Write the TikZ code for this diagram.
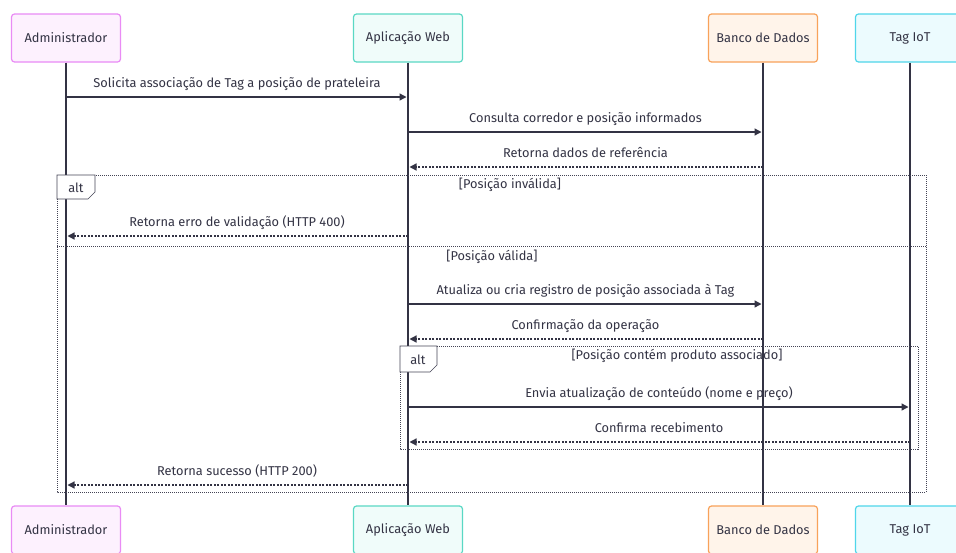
\documentclass[tikz,border=0pt]{standalone}
\usepackage{fontspec}
\setmainfont{Fira Sans}
\usetikzlibrary{arrows.meta,calc}
\definecolor{ink}{HTML}{333344}
\definecolor{admline}{HTML}{E98BF5}
\definecolor{admfill}{HTML}{FDF1FE}
\definecolor{appline}{HTML}{5AD8C4}
\definecolor{appfill}{HTML}{F0FCFA}
\definecolor{dbline}{HTML}{F8A25A}
\definecolor{dbfill}{HTML}{FFF4EA}
\definecolor{tagline}{HTML}{4FD6EA}
\definecolor{tagfill}{HTML}{ECFBFE}
\definecolor{framegray}{HTML}{444455}
\tikzset{
  actor/.style={draw, rounded corners=3pt, minimum width=109pt, minimum height=48pt,
    line width=1.2pt, text=ink, font=\fontsize{12.8}{15}\selectfont},
  lifeline/.style={draw=ink, line width=1.3pt},
  msg/.style={draw=ink, line width=1.3pt, -{Triangle[length=7pt,width=7pt]}},
  reply/.style={msg, dash pattern=on 2pt off 1.5pt},
  msglabel/.style={anchor=base, text=ink, font=\fontsize{12.8}{15}\selectfont},
  altframe/.style={draw=framegray, line width=1pt, dash pattern=on 1pt off 1pt},
  alttab/.style={draw=framegray, line width=0.6pt, fill=white},
  guard/.style={anchor=base, text=ink, font=\fontsize{12.8}{15}\selectfont},
}
\begin{document}
\begin{tikzpicture}[x=1pt,y=-1pt]
\useasboundingbox (0,0) rectangle (956,552);
\fill[white] (0,0) rectangle (956,552);

% participants, top and bottom
\node[actor, draw=admline, fill=admfill] (admT) at (66,38) {Administrador};
\node[actor, draw=appline, fill=appfill] (appT) at (408,38) {Aplicação Web};
\node[actor, draw=dbline, fill=dbfill] (dbT) at (763,38) {Banco de Dados};
\node[actor, draw=tagline, fill=tagfill] (tagT) at (910,38) {Tag IoT};

\node[actor, draw=admline, fill=admfill] (admB) at (66,530) {Administrador};
\node[actor, draw=appline, fill=appfill] (appB) at (408,530) {Aplicação Web};
\node[actor, draw=dbline, fill=dbfill] (dbB) at (763,530) {Banco de Dados};
\node[actor, draw=tagline, fill=tagfill] (tagB) at (910,530) {Tag IoT};

% lifelines
\draw[lifeline] (admT.south) -- (admB.north);
\draw[lifeline] (appT.south) -- (appB.north);
\draw[lifeline] (dbT.south) -- (dbB.north);
\draw[lifeline] (tagT.south) -- (tagB.north);

% outer alt frame
\draw[altframe] (57,175) rectangle (926,492);
\draw[altframe] (57,246) -- (926,246);
\draw[alttab] (57,175) -- (95,175) -- (95,192) -- (88,199) -- (57,199) -- cycle;
\node[anchor=base, text=ink, font=\fontsize{12.8}{15}\selectfont] (altA) at (76,192) {alt};
\node[guard] (g1) at (510,188) {[Posição inválida]};
\node[guard] (g2) at (492,260) {[Posição válida]};

% inner alt frame
\draw[altframe] (400,346) rectangle (918,449);
\draw[alttab] (400,346) -- (437,346) -- (437,365) -- (430,372) -- (400,372) -- cycle;
\node[anchor=base, text=ink, font=\fontsize{12.8}{15}\selectfont] (altB) at (418,364) {alt};
\node[guard] (g3) at (677,359) {[Posição contém produto associado]};

% message rows
\coordinate (m1) at (0,97);
\coordinate (m2) at (0,132);
\coordinate (m3) at (0,167);
\coordinate (m4) at (0,236);
\coordinate (m5) at (0,304);
\coordinate (m6) at (0,339);
\coordinate (m7) at (0,407);
\coordinate (m8) at (0,442);
\coordinate (m9) at (0,485);

\draw[msg] (admT |- m1) -- ($(appT |- m1)+(-1.5,0)$);
\node[msglabel] at ($(admT |- m1)!0.5!(appT |- m1)+(0,-10)$) {Solicita associação de Tag a posição de prateleira};

\draw[msg] (appT |- m2) -- ($(dbT |- m2)+(-1.5,0)$);
\node[msglabel] at ($(appT |- m2)!0.5!(dbT |- m2)+(0,-10)$) {Consulta corredor e posição informados};

\draw[reply] (dbT |- m3) -- ($(appT |- m3)+(1.5,0)$);
\node[msglabel] at ($(appT |- m3)!0.5!(dbT |- m3)+(0,-10)$) {Retorna dados de referência};

\draw[reply] (appT |- m4) -- ($(admT |- m4)+(1.5,0)$);
\node[msglabel] at ($(admT |- m4)!0.5!(appT |- m4)+(0,-10)$) {Retorna erro de validação (HTTP 400)};

\draw[msg] (appT |- m5) -- ($(dbT |- m5)+(-1.5,0)$);
\node[msglabel] at ($(appT |- m5)!0.5!(dbT |- m5)+(0,-10)$) {Atualiza ou cria registro de posição associada à Tag};

\draw[reply] (dbT |- m6) -- ($(appT |- m6)+(1.5,0)$);
\node[msglabel] at ($(appT |- m6)!0.5!(dbT |- m6)+(0,-10)$) {Confirmação da operação};

\draw[msg] (appT |- m7) -- ($(tagT |- m7)+(-1.5,0)$);
\node[msglabel] at ($(appT |- m7)!0.5!(tagT |- m7)+(0,-10)$) {Envia atualização de conteúdo (nome e preço)};

\draw[reply] (tagT |- m8) -- ($(appT |- m8)+(1.5,0)$);
\node[msglabel] at ($(appT |- m8)!0.5!(tagT |- m8)+(0,-10)$) {Confirma recebimento};

\draw[reply] (appT |- m9) -- ($(admT |- m9)+(1.5,0)$);
\node[msglabel] at ($(admT |- m9)!0.5!(appT |- m9)+(0,-10)$) {Retorna sucesso (HTTP 200)};
\end{tikzpicture}
\end{document}
